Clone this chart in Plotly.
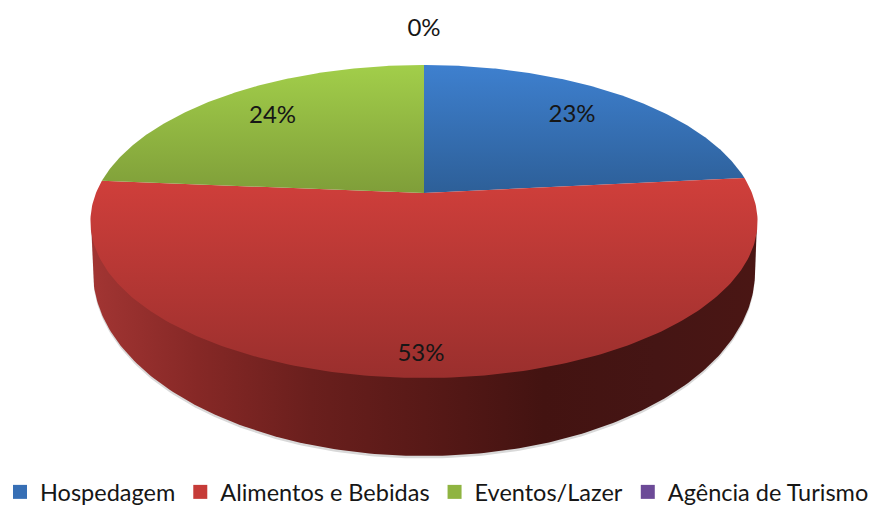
import numpy as np
import plotly.graph_objects as go

categories = ["Hospedagem", "Alimentos e Bebidas", "Eventos/Lazer", "Agência de Turismo"]
shares = [23.4, 52.9, 23.7, 0.0]
labels = ["23%", "53%", "24%", "0%"]
label_radius = [0.75, 0.895, 0.75, 1.34]
label_turn = [-0.01, 0.018, 0.0, 0.0]

colors = ["#376FB5", "#C63B38", "#8FB441", "#6C4A97"]
grad_top = {
    0: [(0, "#2D5F98"), (1, "#3E80CF")],
    1: [(0, "#9A2F2D"), (1, "#D03F3B")],
    2: [(0, "#7F9E39"), (1, "#A2CE4A")],
}

CX, CY = 424.0, 193.0
K, A, B = 0.182, 328.0, 151.3
FONT = "Lato"
TXT = "#161616"


def project(t, r=1.0):
    u, v = r * np.sin(t), -r * np.cos(t)
    w = 1 - K * v
    return CX + A * u / w, CY + B * v / w


fig = go.Figure()

# side wall outline (with a faint shadow just below it)
th = np.linspace(np.pi, 0, 200)
lx = 424 + 331 * np.cos(th)
ly = 272 + 184 * np.sin(th)
wall_x = np.r_[91, lx, 757, 91]
wall_y = np.r_[221, ly, 221, 221]
fig.add_trace(go.Scatter(
    x=wall_x, y=wall_y + 2.5, mode="lines", fill="toself", line=dict(width=0),
    fillcolor="#d9d9d9", showlegend=False, hoverinfo="skip",
))
fig.add_trace(go.Scatter(
    x=wall_x, y=wall_y, mode="lines", fill="toself",
    line=dict(width=0), showlegend=False, hoverinfo="skip",
    fillgradient=dict(type="horizontal", colorscale=[
        (0, "#A23533"), (0.16, "#862826"), (0.33, "#6A1F1D"), (0.5, "#581917"),
        (0.68, "#431311"), (0.85, "#451514"), (1, "#4A1614")]),
))

# top face wedges
ends = np.cumsum(shares) / np.sum(shares) * 2 * np.pi
starts = np.r_[0, ends[:-1]]
for i, (s, e) in enumerate(zip(starts, ends)):
    if e - s <= 0:
        continue
    t = np.linspace(s, e, 200)
    px, py = project(t)
    fig.add_trace(go.Scatter(
        x=np.r_[CX, px, CX], y=np.r_[CY, py, CY], mode="lines", fill="toself",
        line=dict(width=0), showlegend=False, name=categories[i],
        fillgradient=dict(type="vertical", colorscale=grad_top[i]),
    ))

# labels
mids = (starts + ends) / 2
mids[3] = 0.0
mids = mids + np.array(label_turn)
lbx, lby = zip(*[project(m, r) for m, r in zip(mids, label_radius)])
fig.add_trace(go.Scatter(
    x=list(lbx), y=list(lby), mode="text", text=labels,
    textfont=dict(family=FONT, size=24, color=TXT), showlegend=False, hoverinfo="skip",
))

# legend entries
for c, col in zip(categories, colors):
    fig.add_trace(go.Scatter(
        x=[None], y=[None], mode="markers", name=c,
        marker=dict(symbol="square", size=14, color=col),
    ))

fig.update_layout(
    width=883, height=507, margin=dict(l=0, r=0, t=0, b=0, autoexpand=False),
    paper_bgcolor="white", plot_bgcolor="white",
    xaxis=dict(range=[0, 883], visible=False, fixedrange=True),
    yaxis=dict(range=[507, 0], visible=False, fixedrange=True),
    legend=dict(orientation="h", x=0.0, y=-0.014, xanchor="left", yanchor="bottom",
                font=dict(family=FONT, size=23.5, color=TXT), bgcolor="rgba(0,0,0,0)"),
)
fig.write_html("out.html", config={"displayModeBar": False},
               post_script="document.body.style.margin='0';")
